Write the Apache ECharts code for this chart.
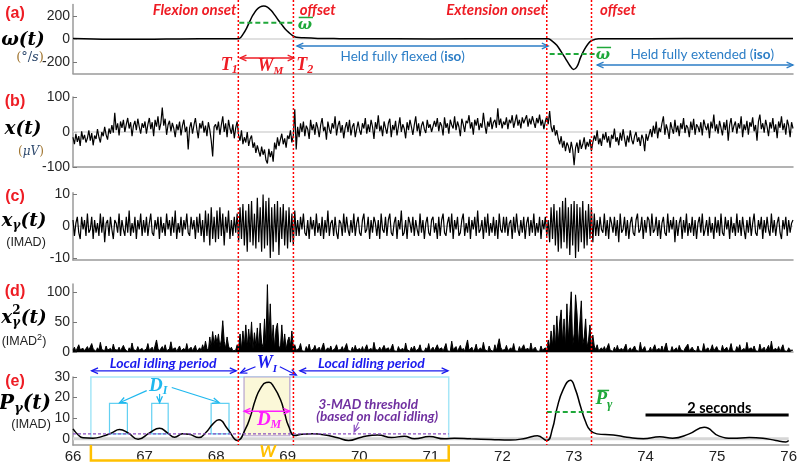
<!DOCTYPE html>
<html><head><meta charset="utf-8">
<script src="https://cdn.jsdelivr.net/npm/echarts@6/dist/echarts.min.js"></script>
<style>html,body{margin:0;padding:0;background:#fff}#c{width:800px;height:464px}</style>
</head><body><div id="c"></div>
<script>
// ---------------- DATA ----------------
const xTickLabels = [66,67,68,69,70,71,72,73,74,75,76];
const ticksA = [-200,0,200];
const ticksB = [-100,0,100];
const ticksC = [-10,0,10];
const ticksD = [0,50,100];
const ticksE = [0,10,20,30];

// (a) angular velocity (deg/s)
const omegaT = [66,66.5,67,67.5,68,68.2,68.31,68.36,68.41,68.46,68.5,68.55,68.6,68.65,68.7,68.75,68.8,68.85,68.9,68.95,69.0,69.05,69.1,69.2,69.4,69.7,70,71,72,72.5,72.6,72.66,72.72,72.78,72.84,72.9,72.95,73.0,73.05,73.1,73.15,73.2,73.25,73.3,73.5,74,75,76];
const omegaV = [5,-2,-3,1,3,3,5,40,93,160,209,255,280,287,278,250,210,165,125,85,55,30,15,10,5,3,2,1,2,3,2,-20,-55,-110,-170,-230,-265,-240,-160,-95,-45,-15,-3,2,3,3,4,4];

// (b)(c)(d): 50 samples per second from t = 66 to 76
const rawEMG = [
-15,-35,-5,-28,-12,-40,2,-22,-8,-30,-18,5,-25,-3,-38,-10,-20,8,-15,-30,
0,-12,15,-8,-22,10,-5,20,-2,55,5,25,-10,30,12,35,0,22,40,10,
28,-12,18,32,5,38,15,-5,25,12,
30,-5,22,40,8,28,-12,35,15,45,5,25,70,18,38,-8,20,32,2,26,
10,-15,22,5,30,-10,18,35,0,15,-50,12,28,-5,20,40,8,-18,25,10,
32,-2,18,-12,28,6,-25,-70,15,22,
5,30,-8,20,45,0,25,-15,35,10,-5,22,-18,12,30,-10,-25,5,-35,-15,
-30,0,-40,-20,-10,-45,-30,-60,-38,-55,-70,-42,-65,-50,-80,-90,-48,-72,-55,-85,
-30,-50,-15,-40,-22,-5,-35,-18,-45,-10,
-20,5,-30,-10,65,-50,15,-15,25,0,30,-12,18,8,-20,35,5,22,-8,28,
12,-15,20,40,2,15,-22,30,8,-5,25,10,45,-10,18,32,-2,20,-18,12,
28,0,35,-10,15,25,-15,8,30,5,
-8,25,10,40,-5,22,0,35,15,-20,28,8,48,2,18,-12,30,12,-5,25,
38,-15,20,5,32,-10,15,42,0,22,10,-18,28,5,35,15,-8,20,45,2,
25,-12,18,30,8,-3,35,12,22,0,
-5,32,15,40,2,28,18,-10,42,12,25,-5,35,20,10,45,5,30,15,-12,
38,22,0,32,25,48,10,28,-8,35,18,40,5,25,12,55,20,-5,30,15,
42,8,28,35,12,68,20,38,10,30,
20,42,8,35,25,48,12,30,50,18,35,10,42,25,30,48,15,38,22,45,
28,12,40,25,50,18,35,8,30,45,22,60,15,0,20,-10,5,-20,-35,-12,
-45,-25,-55,-30,-40,-60,-28,-50,-95,-45,
-30,-60,-22,-48,-35,-15,-50,-28,-42,-20,-55,-30,-10,-25,5,-35,-18,-40,-5,-22,
0,-30,-12,-45,-8,-20,10,-28,-15,-38,-2,-25,8,-18,-42,-10,-30,5,-22,-35,
-12,0,-28,-15,-40,-8,-20,-55,-5,-25,
-22,8,-15,18,-5,30,-18,12,0,25,45,-8,22,5,-20,28,10,-5,35,0,
18,-12,25,8,40,-3,20,12,-15,30,5,38,-8,22,15,0,28,-10,35,18,
5,25,-18,30,10,50,2,22,-5,32,
12,-10,28,5,35,-25,20,40,0,18,30,-5,25,10,45,-15,22,5,32,-8,
28,15,42,2,20,-25,30,50,8,25,-2,35,15,-12,28,10,40,0,22,-18,
30,12,45,5,25,-8,35,18,-15,28,
10];
const gammaEMG = [
2,-3,1,3,-2,-4,3,-1,2,-3,4,-2,-1,3,-4,2,-2,1,-3,4,
-2,3,-5,1,2,-3,3,-1,-4,2,1,-2,4,-3,2,-1,-3,3,-2,5,
-3,1,-2,3,-4,2,-1,4,-3,2,
-2,3,-3,1,4,-2,-3,2,-1,3,-4,3,-2,1,-3,4,-1,2,-3,3,
-2,5,-4,1,-2,3,-3,2,-1,4,-2,-3,3,-1,2,-4,3,-2,4,-3,
2,-5,5,-3,4,-6,6,-4,3,-5,
5,-4,6,-3,4,-6,3,-2,5,-4,2,-3,3,-2,4,-5,6,-4,7,-6,
5,-8,7,-5,8,-6,4,-7,9,-5,6,-8,10,-7,8,-6,9,-10,6,-8,
7,-5,8,-9,6,-4,7,-6,5,-7,
6,-5,4,-6,5,-3,2,-3,3,-1,4,-2,-3,2,-4,3,-1,2,-3,4,
-2,1,-3,3,-4,2,-2,5,-3,1,2,-3,3,-2,-4,2,1,-3,4,-2,
3,-1,-3,2,-2,4,-3,1,3,-2,
-3,2,4,-2,-1,3,-4,2,-2,3,1,-3,2,-4,4,-1,-2,3,-3,2,
4,-2,-3,1,3,-4,2,-1,5,-3,-2,2,-4,3,1,-2,3,-3,2,-1,
-3,4,-2,2,-4,1,3,-2,-3,2,
3,-2,1,-4,3,-3,2,4,-2,-3,1,3,-2,4,-4,2,-1,3,-3,-2,
2,4,-3,1,-2,3,-4,2,-1,3,-3,5,-2,-1,2,-4,3,-2,4,-3,
1,-2,3,-3,2,-4,4,-1,-2,3,
-2,3,-3,1,2,-4,3,-2,4,-1,-3,2,-2,3,-4,1,3,-3,2,-2,
4,-3,1,-2,3,-4,2,-1,3,-3,2,-5,6,-4,7,-6,5,-8,6,-7,
8,-5,9,-7,6,-9,7,-6,8,-10,
7,-8,6,-5,8,-7,5,-6,7,-4,6,-5,4,-3,2,-3,3,-1,-2,4,
-3,2,-4,3,1,-2,3,-3,2,-5,4,-2,-1,3,-3,2,-4,1,3,-2,
-3,2,4,-2,-1,3,-4,2,-2,3,
2,-3,4,-2,-1,3,-3,2,-4,1,3,-2,-3,4,-2,2,-1,3,-5,2,
-3,1,3,-4,2,-2,4,-3,1,-2,3,-3,2,-4,1,3,-2,4,-3,-1,
2,-3,3,-2,1,-4,3,-2,2,-3,
4,-2,-3,3,-1,2,-4,3,-2,1,-3,4,-2,2,-3,3,-1,-4,2,-2,
3,-3,1,4,-2,-3,2,-1,3,-4,2,-2,3,-1,-3,4,-2,2,-3,1,
3,-2,-4,2,-1,3,-3,2,-2,1,
2];
const gammaSq = [
3,8,1,2,12,4,1,6,2,0,9,3,1,14,5,2,1,7,3,16,
4,1,2,10,3,0,6,2,13,4,1,3,8,2,1,11,5,2,0,7,
3,15,4,1,2,9,3,1,6,2,
1,5,14,3,2,8,1,4,20,6,2,1,9,3,12,2,1,5,17,4,
2,7,1,3,10,2,1,6,2,14,3,1,8,2,4,11,1,3,7,2,
12,4,18,6,2,25,8,34,12,28,
15,30,8,20,52,18,6,25,10,4,8,2,5,3,12,6,30,4,35,10,
45,8,38,12,50,5,32,10,40,6,48,15,8,55,12,112,20,80,10,45,
6,38,48,10,5,45,8,30,4,18,
25,10,35,8,12,3,1,6,14,2,4,1,9,3,13,2,1,5,11,3,
2,8,1,4,15,2,1,7,3,10,2,1,6,12,3,1,4,9,2,1,
14,3,5,1,8,2,11,3,1,6,
2,9,1,4,12,3,1,6,2,16,4,1,3,8,2,1,11,4,2,7,
1,3,13,2,5,1,9,3,2,6,1,15,4,2,1,8,3,10,2,1,
5,12,2,4,1,7,3,14,2,1,
8,2,1,12,4,2,7,1,3,14,2,5,1,18,4,2,9,1,3,11,
2,6,1,4,20,3,2,8,1,5,13,2,1,7,3,16,4,2,1,10,
3,6,1,12,2,4,22,8,3,1,
4,11,2,1,7,3,14,2,5,1,9,3,2,12,4,1,6,2,15,3,
1,8,2,5,1,10,3,2,7,1,20,6,35,10,45,8,60,15,50,70,
15,55,8,80,20,62,100,10,30,95,
65,10,50,85,12,25,55,8,20,45,5,28,10,4,12,2,1,7,3,9,
2,1,14,3,5,1,8,2,11,3,1,6,2,4,13,1,3,7,2,1,
10,3,5,1,16,2,4,9,1,3,
2,8,1,4,12,3,1,6,2,10,1,3,15,2,5,1,9,2,3,7,
1,11,4,2,1,6,3,13,2,1,8,3,5,1,10,2,4,1,14,3,
2,7,1,5,12,2,1,9,3,6,
1,11,3,2,8,1,5,14,2,4,1,9,3,12,2,1,6,2,16,4,
1,7,3,10,2,5,1,13,3,2,8,1,4,11,2,18,3,1,6,2,
9,1,4,12,2,5,1,7,3,2,
3];

// (e) smoothed gamma power
const powerT = [66.0,66.07,66.14,66.28,66.42,66.54,66.65,66.77,66.91,67.07,67.21,67.32,67.42,67.53,67.62,67.76,67.86,67.95,68.04,68.16,68.3,68.41,68.48,68.55,68.62,68.7,68.74,68.8,68.9,68.96,69.01,69.1,69.2,69.35,69.5,69.7,69.85,70.03,70.26,70.45,70.63,70.77,70.98,71.19,71.33,71.56,71.84,72.11,72.33,72.49,72.62,72.7,72.76,72.85,72.95,73.02,73.09,73.16,73.23,73.32,73.55,73.74,73.97,74.2,74.38,74.61,74.82,75.03,75.22,75.45,75.64,75.82,75.96,76.0];
const powerV = [4.8,2.0,0.5,0.3,1.3,2.9,4.5,2.9,-0.2,2.9,5.1,2.9,0.8,2.4,2.2,0.6,3.2,7.0,9.2,4.8,-0.8,4.8,11,19.1,24.5,27.3,27.4,25.5,19,12,6.4,1.6,2.2,2.4,2.0,0.5,-0.8,0.8,1.9,0.6,1.3,0,1.1,0,0.3,0,-0.3,-0.6,0.3,1.5,-0.8,5,14.4,24,28.4,24,15.9,8.5,4.0,2.4,1.9,0.8,0,1.0,0.3,2.4,5.6,1.3,0.3,0.6,0.3,-0.8,-1.5,-0.8];

// events and annotation values
const eventTimes = [68.31, 69.08, 72.62, 73.245];
const omegaMean = [142, -130];
const powerMean = 13;
const madThreshold = 2.4;
const windowW = [66.25, 71.25];
const idleBursts = [[66.51,66.76],[67.10,67.33],[67.93,68.18]];
const burstTop = 17.2;
const moveBurst = [68.39, 69.03];
const scaleBar = [74, 76];

// ---------------- CHART ----------------
const chart = echarts.init(document.getElementById('c'), null, {renderer:'canvas', width:800, height:464});
const T0 = 66, T1 = 76;
const sampled = arr => arr.map((v,i)=>[T0 + i*(T1-T0)/(arr.length-1), v]);
const paired = (ts, vs) => ts.map((t,i)=>[t, vs[i]]);

const panels = [
  {top:4.5, height:69, min:-300, max:300, ticks:ticksA},
  {top:97, height:70, min:-100, max:100, ticks:ticksB},
  {top:192.7, height:67.3, min:-10.6, max:10.6, ticks:ticksC},
  {top:284, height:68, min:0, max:113, ticks:ticksD},
  {top:377, height:69, min:-3, max:30, ticks:ticksE}
];
const AX = '#9a9a9a';
const series = [];
[0,1,2,4].forEach(i=>{
  series.push({type:'line', xAxisIndex:i, yAxisIndex:i, data:[[66,0],[76,0]], symbol:'none', silent:true, z:1,
    lineStyle:{color:'#d6d6d6', width: i===4?3:1.5}});
});
series.push({type:'line', xAxisIndex:0, yAxisIndex:0, data:paired(omegaT, omegaV), symbol:'none', smooth:0.35, z:3, lineStyle:{color:'#000', width:1.5}});
series.push({type:'line', xAxisIndex:1, yAxisIndex:1, data:sampled(rawEMG), symbol:'none', z:3, lineStyle:{color:'#000', width:1.2}});
series.push({type:'line', xAxisIndex:2, yAxisIndex:2, data:sampled(gammaEMG), symbol:'none', z:3, lineStyle:{color:'#000', width:1.2}});
series.push({type:'line', xAxisIndex:3, yAxisIndex:3, data:sampled(gammaSq), symbol:'none', z:3, lineStyle:{color:'#000', width:1}, areaStyle:{color:'#000', opacity:1}});
series.push({type:'line', xAxisIndex:4, yAxisIndex:4, data:paired(powerT, powerV), symbol:'none', smooth:0.5, z:3, lineStyle:{color:'#000', width:1.5}});

chart.setOption({
  animation:false,
  backgroundColor:'#fff',
  grid: panels.map(p=>({left:73, right:7, top:p.top, height:p.height})),
  xAxis: panels.map((p,i)=>({type:'value', gridIndex:i, min:66, max:76, interval:1,
    axisLine:{show:true, onZero:false, lineStyle:{color:AX, width:1.5}},
    axisTick:{show:false}, splitLine:{show:false},
    axisLabel:{show:i===4, fontSize:15, color:'#222', margin:4, fontFamily:'Liberation Sans', showMinLabel:true, showMaxLabel:true,
      formatter: v => xTickLabels.includes(v) ? String(v) : ''}})),
  yAxis: panels.map((p,i)=>({type:'value', gridIndex:i, min:p.min, max:p.max,
    axisLine:{show:true, onZero:false, lineStyle:{color:AX, width:1.5}},
    axisTick:{show:true, inside:true, length:4, customValues:p.ticks, lineStyle:{color:'#777'}},
    axisLabel:{customValues:p.ticks, fontSize:14, color:'#262626', margin:3, fontFamily:'Liberation Sans'},
    splitLine:{show:false}})),
  series
});

// ---------------- ANNOTATIONS ----------------
const G = [];
const P = (g,x,y)=>chart.convertToPixel({gridIndex:g},[x,y]);
const ctx = document.createElement('canvas').getContext('2d');
const mw = (font,s)=>{ctx.font=font; return ctx.measureText(s).width;};
function seg(a,b,stroke,w,dash,z){G.push({type:'line',silent:true,z:z||60,shape:{x1:a[0],y1:a[1],x2:b[0],y2:b[1]},style:{stroke:stroke,lineWidth:w,lineDash:dash||null,fill:null}});}
function head(tip,from,color,size){
  const ang=Math.atan2(tip[1]-from[1],tip[0]-from[0]); const s=size||7, sp=0.42;
  const p1=[tip[0]-s*Math.cos(ang-sp),tip[1]-s*Math.sin(ang-sp)], p2=[tip[0]-s*Math.cos(ang+sp),tip[1]-s*Math.sin(ang+sp)];
  G.push({type:'polyline',silent:true,z:61,shape:{points:[p1,tip,p2]},style:{stroke:color,lineWidth:1.3,fill:null}});
}
function arrow(g,x1,y1,x2,y2,color,w,both){const a=P(g,x1,y1),b=P(g,x2,y2);seg(a,b,color,w);head(b,a,color);if(both)head(a,b,color);}
function rect(g,x1,y1,x2,y2,style,z){const a=P(g,x1,y1),b=P(g,x2,y2);
  G.push({type:'rect',silent:true,z:z||1,shape:{x:Math.min(a[0],b[0]),y:Math.min(a[1],b[1]),width:Math.abs(b[0]-a[0]),height:Math.abs(b[1]-a[1])},style:style});}
function runs(ax,ay,parts,align){
  let cur=0,prevStart=0,prevW=0; const placed=[];
  parts.forEach(p=>{const w=mw(p.font,p.s); let x;
    if(p.stack){x=prevStart; prevW=Math.max(prevW,w); cur=prevStart+prevW;}
    else {x=cur; prevStart=cur; prevW=w; cur+=w+(p.gap||0);}
    placed.push({p:p,x:x,w:w});});
  const off = align==='left'?0:(align==='right'?-cur:-cur/2);
  placed.forEach(o=>{G.push({type:'text',silent:true,z:62,x:ax+off+o.x,y:ay+(o.p.dy||0),
    style:{text:o.p.s,font:o.p.font,fill:o.p.fill,align:'left',verticalAlign:'middle',textAlign:'left',textVerticalAlign:'middle'}});});
  return placed.map(o=>({x:ax+off+o.x,w:o.w}));
}
function dtext(g,x,y,parts,align){const p=P(g,x,y);return runs(p[0],p[1],parts,align);}

const RED='#ee1c24', GREEN='#1fa83a', BLUE='#2b7dc6', DBLUE='#1a1aee', CYAN='#1fb8ee', MAG='#ff1cff', PURP='#7030a0', ORANGE='#ffc000';
const lato=(sz,w,st)=>(st||'')+' '+(w||'')+' '+sz+'px Lato';
const serif=(sz)=>'italic bold '+sz+'px "Liberation Serif"';
const dv=(sz)=>'italic bold '+sz+'px "DejaVu Serif"';

// event lines
const yBottom = P(4,70,-3)[1];
eventTimes.forEach(t=>{const X=P(4,t,0)[0]; seg([X,0],[X,yBottom],'#ff0000',1.5,[2,2],70);});

// panel (a)
const redF = lato(15,'bold','italic');
dtext(0,68.27,252,[{s:'Flexion onset',font:redF,fill:RED}],'right');
dtext(0,69.15,252,[{s:'offset',font:redF,fill:RED}],'left');
dtext(0,72.57,252,[{s:'Extension onset',font:redF,fill:RED}],'right');
dtext(0,73.32,252,[{s:'offset',font:redF,fill:RED}],'left');
seg(P(0,eventTimes[0],omegaMean[0]),P(0,eventTimes[1],omegaMean[0]),GREEN,2,[5,3]);
seg(P(0,eventTimes[2],omegaMean[1]),P(0,eventTimes[3],omegaMean[1]),GREEN,2,[5,3]);
[[69.22,122],[73.36,-139]].forEach(c=>{const r=dtext(0,c[0],c[1],[{s:'ω',font:dv(15),fill:GREEN}],'center');
  const p=P(0,c[0],c[1]); seg([r[0].x+1,p[1]-7.5],[r[0].x+r[0].w+1,p[1]-7.5],GREEN,1.5);});
dtext(0,68.17,-226,[{s:'T',font:serif(18),fill:RED},{s:'1',font:serif(12),fill:RED,dy:5}],'center');
dtext(0,69.22,-226,[{s:'T',font:serif(18),fill:RED},{s:'2',font:serif(12),fill:RED,dy:5}],'center');
arrow(0,68.32,-165,69.07,-165,RED,1.3,true);
dtext(0,68.74,-235,[{s:'W',font:serif(18),fill:RED},{s:'M',font:serif(11),fill:RED,dy:5}],'center');
arrow(0,69.11,-61,72.6,-61,BLUE,1.3,true);
dtext(0,70.58,-157,[{s:'Held fully flexed (',font:lato(13.5),fill:BLUE},{s:'iso',font:lato(13.5,'bold'),fill:BLUE},{s:')',font:lato(13.5),fill:BLUE}],'center');
arrow(0,73.28,-226,76,-226,BLUE,1.3,true);
dtext(0,74.74,-139,[{s:'Held fully extended (',font:lato(13.5),fill:BLUE},{s:'iso',font:lato(13.5,'bold'),fill:BLUE},{s:')',font:lato(13.5),fill:BLUE}],'center');

// panel (e)
rect(4,windowW[0],30,windowW[1],0,{stroke:'#a6e6f7',lineWidth:1.5,fill:null},1);
rect(4,moveBurst[0],30,moveBurst[1],1.5,{stroke:'#b7a3cf',lineWidth:1.2,fill:'#fbf8d8'},1);
idleBursts.forEach(b=>rect(4,b[0],madThreshold,b[1],burstTop,{stroke:'#62d0f2',lineWidth:1.2,fill:null},2));
const blueF = lato(14,'bold','italic');
dtext(4,67.26,36.4,[{s:'Local idling period',font:blueF,fill:DBLUE}],'center');
arrow(4,66.26,33,68.28,33,DBLUE,1.3,true);
dtext(4,70.17,36.4,[{s:'Local idling period',font:blueF,fill:DBLUE}],'center');
arrow(4,69.17,33,71.24,33,DBLUE,1.3,true);
dtext(4,68.71,36.4,[{s:'W',font:serif(18),fill:DBLUE},{s:'I',font:serif(11),fill:DBLUE,dy:5}],'center');
arrow(4,68.55,35,68.34,32,DBLUE,1.2,false);
arrow(4,68.89,35,69.12,31,DBLUE,1.2,false);
dtext(4,67.19,25.8,[{s:'D',font:serif(19),fill:CYAN},{s:'I',font:serif(12),fill:CYAN,dy:5}],'center');
arrow(4,67.03,23.4,66.65,17.5,CYAN,1.2,false);
arrow(4,67.21,21.8,67.21,17.6,CYAN,1.2,false);
arrow(4,67.38,24.9,68.04,17.6,CYAN,1.2,false);
arrow(4,moveBurst[0],13.4,moveBurst[1],13.4,MAG,1.5,true);
dtext(4,68.74,9.1,[{s:'D',font:serif(19),fill:MAG},{s:'M',font:serif(12),fill:MAG,dy:5}],'center');
const purpF = lato(13.5,'bold','italic');
dtext(4,69.43,16.7,[{s:'3-MAD threshold',font:purpF,fill:PURP}],'left');
dtext(4,69.40,11,[{s:'(based on local idling)',font:purpF,fill:PURP}],'left');
arrow(4,69.99,8.1,69.93,3.4,'#8a4fc0',1.1,false);
seg(P(4,66,madThreshold),P(4,windowW[1],madThreshold),'#8a4fc0',1.2,[3,2]);
seg(P(4,eventTimes[2],powerMean),P(4,eventTimes[3],powerMean),GREEN,2,[5,3]);
{const r=dtext(4,73.42,19.1,[{s:'P',font:serif(19),fill:GREEN},{s:'γ',font:serif(13),fill:GREEN,dy:5}],'center');
 const p=P(4,73.42,19.1); seg([r[0].x+2,p[1]-9],[r[0].x+r[0].w+2,p[1]-9],GREEN,1.5);}
seg(P(4,scaleBar[0],11.6),P(4,scaleBar[1],11.6),'#000',3);
dtext(4,75.03,14.8,[{s:'2 seconds',font:lato(14.5,'bold'),fill:'#000'}],'center');
{const a=P(4,windowW[0],-3),b=P(4,windowW[0],-10.5),c=P(4,windowW[1],-10.5),d=P(4,windowW[1],-3);
 G.push({type:'polyline',silent:true,z:60,shape:{points:[a,b,c,d]},style:{stroke:ORANGE,lineWidth:2.5,fill:null}});}
dtext(4,68.72,-6.2,[{s:'W',font:lato(17,'bold','italic'),fill:ORANGE}],'center');

// left column labels
const letF='bold 16px "Liberation Sans"';
[['(a)',14],['(b)',102],['(c)',197],['(d)',292],['(e)',382]].forEach(l=>runs(15,l[1],[{s:l[0],font:letF,fill:RED}],'center'));
const M=dv(18.5), S=dv(12), K='#000';
runs(23,40,[{s:'ω(t)',font:M,fill:K}],'center');
runs(23,129,[{s:'x(t)',font:M,fill:K}],'center');
runs(24,221,[{s:'x',font:M,fill:K},{s:'γ',font:S,fill:K,dy:5},{s:'(t)',font:M,fill:K}],'center');
runs(24,318,[{s:'x',font:M,fill:K},{s:'2',font:'bold 12px "DejaVu Serif"',fill:K,dy:-7},{s:'γ',font:S,fill:K,dy:5,stack:true},{s:'(t)',font:M,fill:K}],'center');
runs(25,404,[{s:'P',font:dv(20),fill:K},{s:'γ',font:dv(13),fill:K,dy:5},{s:'(t)',font:dv(20),fill:K}],'center');
const UP='#a0742e', UN='#2f4a6e';
runs(30,58,[{s:'(',font:'13px "DejaVu Serif"',fill:UP},{s:'°/',font:'13px "DejaVu Serif"',fill:UN},{s:'s',font:'italic 13px "DejaVu Serif"',fill:UN},{s:')',font:'13px "DejaVu Serif"',fill:UP}],'center');
runs(31,152,[{s:'(',font:'12px "DejaVu Serif"',fill:UP},{s:'μV',font:'italic 12px "DejaVu Serif"',fill:UN},{s:')',font:'12px "DejaVu Serif"',fill:UP}],'center');
const imF='12.5px "Liberation Sans"';
runs(26,243,[{s:'(IMAD)',font:imF,fill:'#222'}],'center');
runs(24,342,[{s:'(IMAD',font:imF,fill:'#222'},{s:'2',font:'9px "Liberation Sans"',fill:'#222',dy:-4},{s:')',font:imF,fill:'#222'}],'center');
runs(31,425,[{s:'(IMAD)',font:imF,fill:'#222'}],'center');

chart.setOption({graphic:{elements:G}});
</script></body></html>
